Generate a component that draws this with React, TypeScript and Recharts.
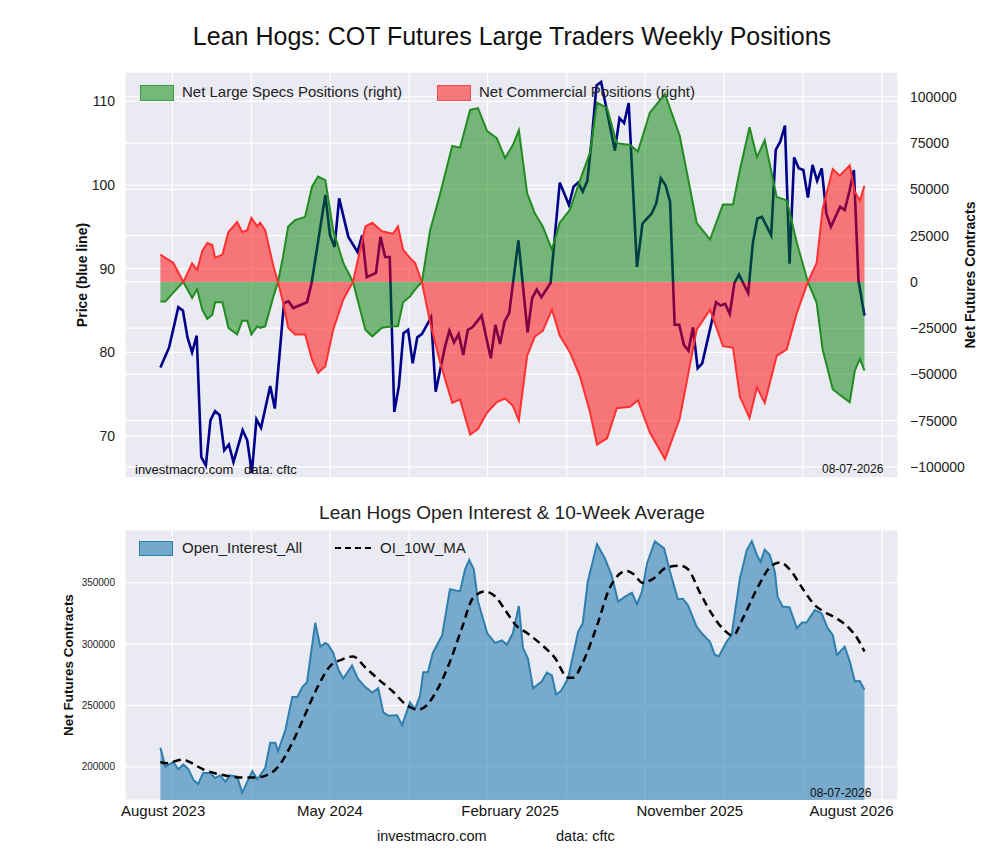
import { Area, CartesianGrid, ComposedChart, Line, XAxis, YAxis } from 'recharts';

// x unit = weeks since mid-June 2023
const PRICE_WEEK = [6.1, 8, 10, 11, 12, 13, 14, 15, 16, 17, 18, 19, 20, 21, 22, 24, 25, 26, 27, 28, 30, 31, 33, 34, 35, 38, 39, 42, 43, 44, 45, 47, 49, 50, 51, 53, 54, 55, 56, 57, 58, 59, 60, 61, 62, 63, 65, 66, 68, 69, 70, 71, 72, 73, 74, 76, 77, 78, 79, 80, 81, 82, 84, 86, 87, 88, 89, 91, 93, 95, 96, 97, 98, 99, 100, 101, 102, 105, 106, 107, 108, 109.8, 111, 113, 114, 115, 116, 117, 118, 119, 120, 121, 122, 123, 124, 126, 127, 128, 129, 130, 131, 132, 134, 135, 136, 137, 139, 140, 141, 142, 143, 144, 145, 146, 147, 148, 149, 150, 151, 152, 154, 155, 156, 157, 158, 159.3];
const PRICE = [78.2, 80.6, 85.4, 85, 81.8, 80, 82, 67.5, 66.5, 71.9, 73, 72.5, 68.3, 69, 66.9, 70.7, 69.5, 65.6, 72, 71, 76, 73.3, 85.9, 86.1, 85.3, 86, 88.3, 98.8, 94, 92.6, 98.4, 93.8, 92, 94, 89, 89.5, 93.8, 91.4, 91.4, 72.9, 76, 82.3, 82.7, 78.7, 81.8, 82.2, 84.2, 75.3, 80.6, 82.6, 81.2, 82.2, 79.7, 82.7, 83, 84.4, 81.8, 79.3, 83.3, 81, 83.7, 84.7, 93.4, 82.4, 86.5, 87.5, 86.6, 88.3, 100.3, 97.6, 99.8, 100.3, 99.2, 100.5, 105.7, 111.9, 112.3, 104.1, 108, 107.4, 109.8, 90.2, 95.4, 96.6, 97.8, 100.8, 100, 98, 83.3, 83.3, 80.9, 80.2, 83, 78.1, 78.7, 83.5, 86, 85.6, 85.8, 84.6, 88.3, 89.3, 87.1, 93, 96, 96.2, 94, 104.2, 105.2, 107.1, 90.6, 103.3, 102, 101.8, 98.5, 102.4, 100.5, 102, 96.6, 95, 97.4, 97, 99.2, 101.8, 88.6, 84.4];

const POS_WEEK = [6.1, 7.2, 8.9, 11.1, 13, 14.1, 15.2, 16.3, 17.4, 18, 19.6, 20.9, 22.8, 23.9, 25, 25.9, 27.2, 27.8, 28.9, 30.7, 31.7, 32.8, 33.9, 35.4, 37.6, 39.1, 40.4, 42, 43.7, 45.9, 48, 50.7, 52.2, 54.3, 56.7, 57.8, 58.9, 60.4, 61.5, 63, 64.8, 67, 69.6, 71.3, 73.5, 75.2, 77.2, 79.3, 81.1, 82.8, 84.1, 85.9, 87.6, 89.3, 91.3, 93, 95.2, 97.4, 99.6, 101.1, 103.3, 105.4, 108.3, 110, 112.6, 115.9, 119.1, 122.8, 125.7, 128.5, 130.7, 132.2, 134.3, 135.9, 137.6, 140.2, 142.4, 144.6, 147, 148.9, 150.2, 152.4, 153.9, 156.1, 157.2, 158.3, 159.3];
const SPECS = [-10.6, -10.6, -5.8, 0, -8.7, -4, -15, -20, -17.7, -11, -11, -24.8, -28.4, -21, -21, -28.4, -24, -24.8, -24, -7.9, 0, 13.9, 30, 33.4, 35.2, 51.5, 57, 55, 28, 10.3, 0, -25.8, -29.4, -24.8, -24, -24, -11, -7.9, -4.2, 0, 28, 48, 73.5, 72.6, 93, 94, 81.6, 77.8, 67, 74, 82, 48, 37, 30, 17.5, 32, 39, 55, 70, 97, 94, 75, 74, 70.5, 91.5, 101.6, 79, 32, 22.9, 41.8, 41.8, 60.7, 83.6, 67.5, 76.6, 46, 44, 21, 0, -11.3, -36.5, -58, -61, -65, -48, -41.6, -48];
const COMM = [14.8, 13, 10.4, 0, 10, 6.5, 16.6, 21, 20, 13, 14.8, 27, 32.4, 27, 28, 34.6, 30, 32, 28, 8.5, 0, -11, -24.8, -28.4, -28.4, -42, -49.2, -45.6, -25.8, -9.5, 0, 30, 32, 27.4, 26, 30, 17.5, 13, 10.3, 0, -22, -43.8, -65.4, -63.5, -82.5, -79.5, -70.6, -65, -63, -67, -75, -40, -29.4, -26.5, -15, -29, -38, -51, -70.6, -88, -84.6, -68.3, -67.5, -64, -81.4, -95.8, -74, -25.8, -15, -34.7, -35.6, -62, -73.5, -57, -65.4, -40, -36.4, -16.7, 0, 10.3, 39.5, 61, 57.5, 63, 48.7, 44, 52];

const OI_WEEK = [6.1, 7.2, 8.9, 10, 11.1, 12.2, 13.3, 14.3, 15.4, 17, 18, 19.1, 20.2, 21.3, 22.8, 23.9, 26.1, 27.2, 28.9, 30, 31.1, 31.7, 33.3, 34.8, 35.9, 37, 38, 39.8, 40.9, 42, 42.6, 43.7, 44.8, 45.9, 47.8, 49.1, 50.7, 52.2, 53.5, 54.6, 55.7, 57.6, 58.7, 60.4, 61.5, 62.6, 63.3, 64.3, 65.4, 67.4, 69.1, 71.3, 72.4, 73.3, 74.3, 75.2, 77.2, 78.9, 80.4, 81.5, 82.8, 84.1, 85, 86.1, 87.2, 89.1, 90.2, 91.3, 92.2, 93.3, 94.8, 97, 98, 99.1, 101.1, 102.8, 104.3, 105.7, 107.2, 108.7, 109.8, 110.9, 112, 113.7, 115.7, 117, 118.7, 119.8, 120.9, 122.8, 124.1, 125.7, 126.7, 127.6, 129.3, 130.4, 132.2, 133.7, 134.8, 135.9, 136.7, 137.6, 138.7, 139.8, 140.4, 141.5, 143, 144.6, 145.7, 146.7, 148.5, 150, 151.3, 152.4, 153.3, 155, 156.1, 157.2, 158.3, 159.3];
const OI = [215.5, 200, 204, 198, 202, 198, 189.4, 186, 195, 195, 191, 193, 188, 193, 192, 179, 196.6, 189.9, 199, 219.6, 219.6, 212.8, 230, 257, 257, 265, 269, 317.4, 298, 301, 299.6, 293, 279.5, 272, 282.6, 271.7, 265, 260.5, 264, 244.4, 241.7, 242, 234, 252.5, 247, 258, 277, 277, 293, 307, 344.7, 343, 361, 368.6, 361, 335, 309, 301, 303, 299.6, 309, 331, 297, 288, 264, 269.7, 276.8, 274.6, 259, 262, 272, 310, 317, 351, 381.5, 370, 356, 334.6, 338.7, 342, 332.5, 343, 366, 383.7, 378, 359, 336.6, 337, 331.7, 314, 308, 302, 291.6, 290, 302, 307.6, 353.5, 376.6, 384, 372.6, 367, 377, 372.6, 359, 338.7, 330.6, 330, 313, 317.6, 317.6, 327.7, 325, 313, 307.6, 291.3, 298, 286, 269.7, 270, 262.9];

const MA_WEEK = [6.1, 7.2, 11.1, 12.4, 15.4, 20.2, 23.9, 26.7, 28.9, 31.7, 34.8, 37.6, 40.4, 43, 45.7, 48, 50.7, 53.5, 56.5, 59.8, 62.2, 63.7, 66.5, 69.1, 71.7, 74.1, 76.7, 78.9, 81.1, 83.3, 85.9, 89.3, 91.9, 94.8, 95.9, 98, 101.1, 103.9, 107.6, 109.1, 111, 113.2, 116.3, 119.1, 120.9, 123.5, 126.3, 128.5, 130.7, 132.8, 135.9, 138.7, 140.9, 143, 145.9, 148.5, 150.7, 153.3, 156.1, 157.8, 159.3];
const MA = [204, 203, 206, 204, 198, 193, 191.3, 191.3, 192.7, 200, 219.6, 242.7, 265.8, 282, 287.6, 290, 281, 271.5, 262, 250, 246.7, 249, 264, 285.6, 313, 337.5, 343, 339, 328, 316, 309, 298.7, 289, 272.7, 272.7, 285, 315, 346, 359.7, 357, 350, 353, 362.5, 364, 361, 342, 323.4, 312.5, 307, 320.8, 345, 362.5, 366.6, 361, 345, 331.7, 326, 320.8, 312.5, 304.4, 294];

const GRID_WEEKS = [8.7, 25.9, 43, 60.2, 77.3, 94.5, 111.6, 128.8, 145.9, 163.1];
const DATE_WEEKS = [6.7, 43, 82.2, 121.3, 156.5];
const DATE_LABELS = ['August 2023', 'May 2024', 'February 2025', 'November 2025', 'August 2026'];
const PRICE_TICKS = [70, 80, 90, 100, 110];
const POS_TICKS = [-100000, -75000, -50000, -25000, 0, 25000, 50000, 75000, 100000];
const OI_TICKS = [200000, 250000, 300000, 350000];

const priceData = PRICE_WEEK.map((w, i) => ({ w, price: PRICE[i] }));
const posData = POS_WEEK.map((w, i) => ({ w, specs: SPECS[i] * 1000, comm: COMM[i] * 1000 }));
const oiData = OI_WEEK.map((w, i) => ({ w, oi: OI[i] * 1000 }));
const maData = MA_WEEK.map((w, i) => ({ w, ma: MA[i] * 1000 }));

const X_DOMAIN = [-1.6, 166.6];
const FONT = '"Liberation Sans", Arial, sans-serif';
const BG = '#eaeaf2';
const tick = { fill: '#222', fontSize: 14, fontFamily: FONT };
const fmt = (v: number) => (v < 0 ? '\u2212' + Math.abs(v) : String(v));
const abs = (x: number, y: number, extra: object = {}) => ({ position: 'absolute' as const, left: x, top: y, fontFamily: FONT, color: '#222', ...extra });
const TOP_MARGIN = { top: 72, left: 85, right: 22, bottom: 22 };

export default function App() {
  const dateTick = (props: any) => {
    const idx = DATE_WEEKS.indexOf(props.payload.value);
    return (
      <text x={props.x} y={props.y + 8} textAnchor="middle" fill="#111" fontSize={15} fontFamily={FONT}>
        {DATE_LABELS[idx]}
      </text>
    );
  };
  return (
    <div style={{ position: 'absolute', left: 0, top: 0, width: 1000, height: 860, background: '#fff' }}>
      <div style={abs(0, 22, { width: 1024, textAlign: 'center', fontSize: 25, color: '#111' })}>
        Lean Hogs: COT Futures Large Traders Weekly Positions
      </div>

      {/* price layer underneath */}
      <div style={{ position: 'absolute', left: 0, top: 0 }}>
        <ComposedChart width={1000} height={500} margin={TOP_MARGIN}>
          <XAxis xAxisId="g" dataKey="w" type="number" domain={X_DOMAIN} ticks={GRID_WEEKS} hide allowDataOverflow />
          <YAxis yAxisId="price" domain={[65, 113.5]} ticks={PRICE_TICKS} width={40} tick={tick} tickLine={false} axisLine={false} tickMargin={4} allowDataOverflow />
          <YAxis yAxisId="pos" orientation="right" domain={[-106000, 113500]} ticks={POS_TICKS} width={80} tick={tick} tickLine={false} axisLine={false} tickMargin={6} tickFormatter={fmt} allowDataOverflow />
          <CartesianGrid xAxisId="g" yAxisId="price" fill={BG} stroke="#fff" strokeWidth={1.2} />
          <CartesianGrid xAxisId="g" yAxisId="pos" vertical={false} stroke="#fff" strokeWidth={1.2} />
          <Line xAxisId="g" yAxisId="price" data={priceData} dataKey="price" type="linear" stroke="#00008b" strokeWidth={2.6} dot={false} isAnimationActive={false} />
        </ComposedChart>
      </div>
      {/* positions layer on top, semi-transparent */}
      <div style={{ position: 'absolute', left: 0, top: 0 }}>
        <ComposedChart width={1000} height={500} margin={TOP_MARGIN}>
          <XAxis xAxisId="g" dataKey="w" type="number" domain={X_DOMAIN} hide allowDataOverflow />
          <YAxis yAxisId="price" domain={[65, 113.5]} width={40} tick={false} axisLine={false} tickLine={false} />
          <YAxis yAxisId="pos" orientation="right" domain={[-106000, 113500]} width={80} tick={false} axisLine={false} tickLine={false} allowDataOverflow />
          <Area xAxisId="g" yAxisId="pos" data={posData} dataKey="specs" type="linear" baseValue={0} stroke="#228b22" strokeWidth={2} fill="#008000" fillOpacity={0.5} isAnimationActive={false} />
          <Area xAxisId="g" yAxisId="pos" data={posData} dataKey="comm" type="linear" baseValue={0} stroke="#ff3030" strokeWidth={2} fill="#ff0000" fillOpacity={0.5} isAnimationActive={false} />
        </ComposedChart>
      </div>

      <div style={abs(140, 85, { width: 32, height: 14, background: '#74b87a', border: '1px solid #3c9a45' })} />
      <div style={abs(182, 83, { fontSize: 15 })}>Net Large Specs Positions (right)</div>
      <div style={abs(437, 85, { width: 32, height: 14, background: '#f6787a', border: '1px solid #f04a4a' })} />
      <div style={abs(479, 83, { fontSize: 15 })}>Net Commercial Positions (right)</div>
      <div style={abs(135, 462, { fontSize: 13, color: '#111' })}>investmacro.com&nbsp;&nbsp;&nbsp;data: cftc</div>
      <div style={abs(822, 462, { fontSize: 12, color: '#111' })}>08-07-2026</div>
      <div style={abs(82, 275, { fontSize: 14, fontWeight: 'bold', color: '#111', transform: 'translate(-50%,-50%) rotate(-90deg)', whiteSpace: 'nowrap' })}>Price (blue line)</div>
      <div style={abs(970, 275, { fontSize: 14, fontWeight: 'bold', color: '#111', transform: 'translate(-50%,-50%) rotate(-90deg)', whiteSpace: 'nowrap' })}>Net Futures Contracts</div>

      <div style={abs(0, 502, { width: 1024, textAlign: 'center', fontSize: 19, color: '#222' })}>
        Lean Hogs Open Interest &amp; 10-Week Average
      </div>
      <div style={{ position: 'absolute', left: 0, top: 500 }}>
        <ComposedChart width={1000} height={340} margin={{ top: 30, left: 65, right: 102, bottom: 0 }}>
          <XAxis xAxisId="g" dataKey="w" type="number" domain={X_DOMAIN} ticks={GRID_WEEKS} hide allowDataOverflow />
          <XAxis xAxisId="d" dataKey="w" type="number" domain={X_DOMAIN} ticks={DATE_WEEKS} height={40} tick={dateTick} tickLine={false} axisLine={false} allowDataOverflow />
          <YAxis domain={[173000, 393000]} ticks={OI_TICKS} width={60} tick={{ fill: '#222', fontSize: 10, fontFamily: FONT }} tickLine={false} axisLine={false} tickMargin={4} allowDataOverflow />
          <CartesianGrid xAxisId="g" fill={BG} stroke="#fff" strokeWidth={1.2} />
          <Area xAxisId="d" data={oiData} dataKey="oi" type="linear" stroke="#2f7fae" strokeWidth={2} fill="#3a87b8" fillOpacity={0.65} isAnimationActive={false} />
          <Line xAxisId="d" data={maData} dataKey="ma" type="monotone" stroke="#000" strokeWidth={2.5} strokeDasharray="8 5" dot={false} isAnimationActive={false} />
        </ComposedChart>
      </div>
      <div style={abs(139, 541, { width: 32, height: 13, background: '#72a8c9', border: '1px solid #2f7fae' })} />
      <div style={abs(182, 539, { fontSize: 15 })}>Open_Interest_All</div>
      <div style={abs(335, 547, { width: 36, borderTop: '2.5px dashed #000' })} />
      <div style={abs(380, 539, { fontSize: 15 })}>OI_10W_MA</div>
      <div style={abs(810, 786, { fontSize: 12, color: '#111' })}>08-07-2026</div>
      <div style={abs(68, 665, { fontSize: 13.5, fontWeight: 'bold', color: '#111', transform: 'translate(-50%,-50%) rotate(-90deg)', whiteSpace: 'nowrap' })}>Net Futures Contracts</div>
      <div style={abs(377, 828, { fontSize: 14.5, color: '#111' })}>investmacro.com</div>
      <div style={abs(556, 828, { fontSize: 14.5, color: '#111' })}>data: cftc</div>
    </div>
  );
}
